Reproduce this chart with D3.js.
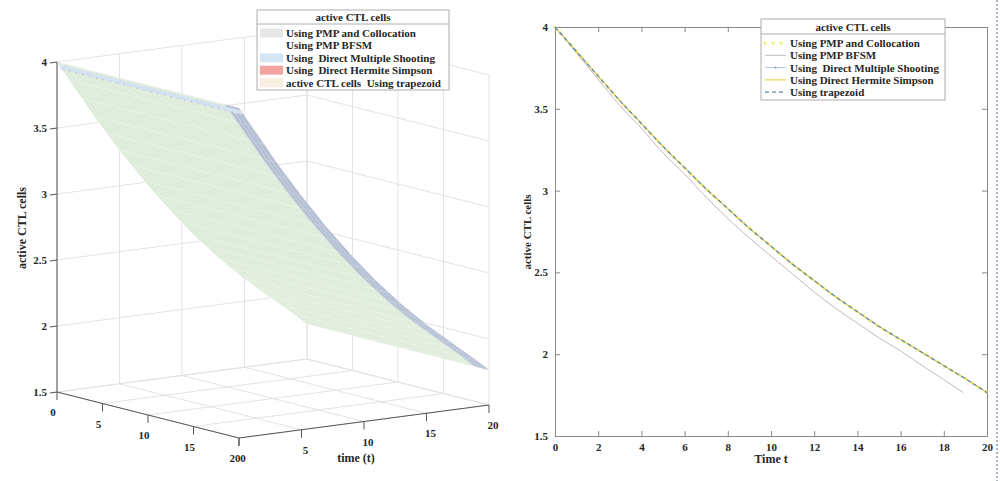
<!DOCTYPE html>
<html>
<head>
<meta charset="utf-8">
<script src="https://cdn.jsdelivr.net/npm/d3@7"></script>
<style>
body { margin: 0; background: #fff; }
svg text { font-family: "Liberation Serif", "Times New Roman", serif; font-weight: bold; fill: #262626; white-space: pre; }
</style>
</head>
<body>
<div id="chart"></div>
<script>
// time grid and active CTL cells
var timeSteps = [0, 1, 2, 3, 4, 5, 6, 7, 8, 9, 10, 11, 12, 13, 14, 15, 16, 17, 18, 19, 20];
// collocation, multiple shooting, Hermite Simpson and trapezoid lie on top of each other
var ctlCollocation = [4.00, 3.85, 3.70, 3.55, 3.41, 3.27, 3.14, 3.01, 2.89, 2.77, 2.66,
                      2.55, 2.45, 2.35, 2.26, 2.17, 2.09, 2.01, 1.93, 1.85, 1.765];
var bfsmTimes = [0, 1, 2, 3, 4, 5, 6, 7, 8, 9, 10, 11, 12, 13, 14, 15, 16, 17, 18, 18.9];
var ctlBFSM = [4.00, 3.84, 3.68, 3.52, 3.38, 3.23, 3.10, 2.96, 2.83, 2.71, 2.60,
               2.49, 2.38, 2.28, 2.19, 2.10, 2.02, 1.93, 1.845, 1.765];

var xTicks2d = [0, 2, 4, 6, 8, 10, 12, 14, 16, 18, 20];
var yTicks2d = [1.5, 2, 2.5, 3, 3.5, 4];
var floorTicks3d = [0, 5, 10, 15, 20];
var zTicks3d = [1.5, 2, 2.5, 3, 3.5, 4];

var legendTitle = "active CTL cells";
var legend3d = ["Using PMP and Collocation", "Using PMP BFSM", "Using  Direct Multiple Shooting",
                "Using  Direct Hermite Simpson", "active CTL cells  Using trapezoid"];
var legend3dColors = ["#e6e6e6", "#ffffff", "#d5e5f5", "#f4a3a3", "#fbefe2"];
var legend2d = ["Using PMP and Collocation", "Using PMP BFSM", "Using  Direct Multiple Shooting",
                "Using Direct Hermite Simpson", "Using trapezoid"];

var w = 1000, h = 481;
var svg = d3.select("#chart").append("svg").attr("width", w).attr("height", h);

// ---------- left: 3D surface ----------
var sideX = d3.scaleLinear().domain([0, 20]).range([0, 182]);
var sideY = d3.scaleLinear().domain([0, 20]).range([0, 46]);
var timeX = d3.scaleLinear().domain([0, 20]).range([0, 250]);
var timeY = d3.scaleLinear().domain([0, 20]).range([0, -33]);
var zScale = d3.scaleLinear().domain([1.5, 4]).range([0, -330]);
var ox = 57, oy = 392;

function proj(s, t, z) {
    return [ox + sideX(s) + timeX(t), oy + sideY(s) + timeY(t) + zScale(z)];
}

var g3 = svg.append("g");
var gridColor = "#e3e3e3";
function seg(a, b, color, width) {
    g3.append("line")
        .attr("x1", a[0]).attr("y1", a[1])
        .attr("x2", b[0]).attr("y2", b[1])
        .attr("stroke", color).attr("stroke-width", width || 1);
}

// back walls and floor grid
zTicks3d.forEach(function (z) {
    seg(proj(0, 0, z), proj(0, 20, z), gridColor);
    seg(proj(0, 20, z), proj(20, 20, z), gridColor);
});
floorTicks3d.forEach(function (v) {
    seg(proj(0, v, 1.5), proj(0, v, 4), gridColor);
    seg(proj(v, 20, 1.5), proj(v, 20, 4), gridColor);
    seg(proj(v, 0, 1.5), proj(v, 20, 1.5), gridColor);
    seg(proj(0, v, 1.5), proj(20, v, 1.5), gridColor);
});

// surface cells
var sideSteps = d3.range(0, 20.001, 0.5);
for (var i = 0; i < sideSteps.length - 1; i++) {
    for (var j = 0; j < timeSteps.length - 1; j++) {
        var s0 = sideSteps[i], s1 = sideSteps[i + 1];
        var t0 = timeSteps[j], t1 = timeSteps[j + 1];
        var z0 = ctlCollocation[j], z1 = ctlCollocation[j + 1];
        var pts = [proj(s0, t0, z0), proj(s1, t0, z0), proj(s1, t1, z1), proj(s0, t1, z1)];
        var edge = s0 >= 18.5;
        g3.append("polygon")
            .attr("points", pts.map(function (p) { return p.join(","); }).join(" "))
            .attr("fill", edge ? "#b4bfd3" : "#dcebd8")
            .attr("stroke", edge ? "#c9d1e1" : "#eef6ec")
            .attr("stroke-width", 0.4);
    }
}
// tinted strip along t = 0
var stripLine = d3.line();
g3.append("path")
    .attr("d", stripLine(sideSteps.map(function (s) { return proj(s, 0.25, ctlCollocation[0] - 0.04); })))
    .attr("fill", "none").attr("stroke", "#d3e2f0").attr("stroke-width", 4);
g3.append("path")
    .attr("d", stripLine(sideSteps.map(function (s) { return proj(s, 0.4, ctlCollocation[0] - 0.06); })))
    .attr("fill", "none").attr("stroke", "#c89aa8").attr("stroke-width", 1)
    .attr("stroke-dasharray", "1,6");

// axes
var axisColor = "#555";
seg(proj(0, 0, 1.5), proj(20, 0, 1.5), axisColor);
seg(proj(20, 0, 1.5), proj(20, 20, 1.5), axisColor);
seg(proj(0, 0, 1.5), proj(0, 0, 4), axisColor);

floorTicks3d.forEach(function (v) {
    var p = proj(v, 0, 1.5);
    seg(p, [p[0], p[1] + 8], axisColor);
    g3.append("text").attr("x", p[0] - 4).attr("y", p[1] + 24)
        .attr("text-anchor", "middle").attr("font-size", 11).text(v);
    var q = proj(20, v, 1.5);
    seg(q, [q[0], q[1] + 8], axisColor);
    g3.append("text").attr("x", q[0] + 4).attr("y", q[1] + 24)
        .attr("text-anchor", "middle").attr("font-size", 11).text(v);
});
zTicks3d.forEach(function (z) {
    var p = proj(0, 0, z);
    seg(p, [p[0] - 7, p[1] + 1], axisColor);
    g3.append("text").attr("x", p[0] - 10).attr("y", p[1] + 4)
        .attr("text-anchor", "end").attr("font-size", 11).text(z);
});
g3.append("text").attr("x", 356).attr("y", 462)
    .attr("text-anchor", "middle").attr("font-size", 12).text("time (t)");
g3.append("text").attr("transform", "translate(26,228) rotate(-90)")
    .attr("text-anchor", "middle").attr("font-size", 12).text("active CTL cells");

// legend 3D
var l3 = svg.append("g").attr("transform", "translate(257,10)");
l3.append("rect").attr("width", 192).attr("height", 80)
    .attr("fill", "#fff").attr("stroke", "#999").attr("stroke-width", 0.8);
l3.append("line").attr("x1", 0).attr("x2", 192).attr("y1", 14).attr("y2", 14)
    .attr("stroke", "#999").attr("stroke-width", 0.8);
l3.append("text").attr("x", 96).attr("y", 11).attr("text-anchor", "middle")
    .attr("font-size", 11).text(legendTitle);
legend3d.forEach(function (name, k) {
    var cy = 23 + k * 12.4;
    l3.append("rect").attr("x", 3).attr("y", cy - 4.5).attr("width", 23).attr("height", 9)
        .attr("fill", legend3dColors[k]);
    l3.append("text").attr("x", 29).attr("y", cy + 4).attr("font-size", 11).text(name);
});

// ---------- right: 2D lines ----------
var x2 = d3.scaleLinear().domain([0, 20]).range([555, 987]);
var y2 = d3.scaleLinear().domain([1.5, 4]).range([436, 27]);
var g2 = svg.append("g");
var plain = function (d) { return String(d); };

g2.append("g").attr("transform", "translate(0,436)")
    .call(d3.axisBottom(x2).tickValues(xTicks2d).tickFormat(plain)
        .tickSizeInner(-5).tickSizeOuter(0).tickPadding(7));
g2.append("g").attr("transform", "translate(0,27)")
    .call(d3.axisTop(x2).tickValues(xTicks2d).tickSizeInner(-5).tickSizeOuter(0).tickFormat(""));
g2.append("g").attr("transform", "translate(555,0)")
    .call(d3.axisLeft(y2).tickValues(yTicks2d).tickFormat(plain)
        .tickSizeInner(-5).tickSizeOuter(0).tickPadding(7));
g2.append("g").attr("transform", "translate(987,0)")
    .call(d3.axisRight(y2).tickValues(yTicks2d).tickSizeInner(-5).tickSizeOuter(0).tickFormat(""));
g2.selectAll(".domain, .tick line").attr("stroke", "#888");
g2.selectAll(".tick text").attr("font-size", 11).attr("font-family", null).attr("fill", "#262626");

var line2 = d3.line()
    .x(function (d) { return x2(d[0]); })
    .y(function (d) { return y2(d[1]); })
    .curve(d3.curveMonotoneX);
var mainPts = d3.zip(timeSteps, ctlCollocation);
var bfsmPts = d3.zip(bfsmTimes, ctlBFSM);

var styles = [
    { data: mainPts, color: "#f3f5a6", width: 4, dash: "0,8", cap: "round" },
    { data: bfsmPts, color: "#c4b8c4", width: 1, dash: null, cap: "butt" },
    { data: mainPts, color: "#a9c6e6", width: 1, dash: null, cap: "butt" },
    { data: mainPts, color: "#ecd44a", width: 1.2, dash: null, cap: "butt" },
    { data: mainPts, color: "#5b84b1", width: 1.2, dash: "4,3", cap: "butt" }
];
styles.forEach(function (st) {
    g2.append("path")
        .attr("d", line2(st.data))
        .attr("fill", "none")
        .attr("stroke", st.color)
        .attr("stroke-width", st.width)
        .attr("stroke-linecap", st.cap)
        .attr("stroke-dasharray", st.dash);
});

g2.append("text").attr("x", 771).attr("y", 463)
    .attr("text-anchor", "middle").attr("font-size", 12).text("Time t");
g2.append("text").attr("transform", "translate(531,232) rotate(-90)")
    .attr("text-anchor", "middle").attr("font-size", 11).text("active CTL cells");

// legend 2D
var l2 = svg.append("g").attr("transform", "translate(761,19)");
l2.append("rect").attr("width", 184).attr("height", 81)
    .attr("fill", "#fff").attr("stroke", "#999").attr("stroke-width", 0.8);
l2.append("line").attr("x1", 0).attr("x2", 184).attr("y1", 15).attr("y2", 15)
    .attr("stroke", "#999").attr("stroke-width", 0.8);
l2.append("text").attr("x", 92).attr("y", 12).attr("text-anchor", "middle")
    .attr("font-size", 11).text(legendTitle);
legend2d.forEach(function (name, k) {
    var cy = 24 + k * 12.3;
    var st = styles[k];
    l2.append("line").attr("x1", 4).attr("x2", 25).attr("y1", cy).attr("y2", cy)
        .attr("stroke", st.color).attr("stroke-width", st.width)
        .attr("stroke-linecap", st.cap).attr("stroke-dasharray", st.dash);
    if (k === 2) {
        l2.append("circle").attr("cx", 14.5).attr("cy", cy).attr("r", 1).attr("fill", "#7f9fc4");
    }
    l2.append("text").attr("x", 29).attr("y", cy + 4).attr("font-size", 11).text(name);
});

// dashed frame edge on the far right
svg.append("line").attr("x1", 997).attr("x2", 997).attr("y1", 0).attr("y2", h)
    .attr("stroke", "#5a6a8a").attr("stroke-width", 1).attr("stroke-dasharray", "2,2");
</script>
</body>
</html>
